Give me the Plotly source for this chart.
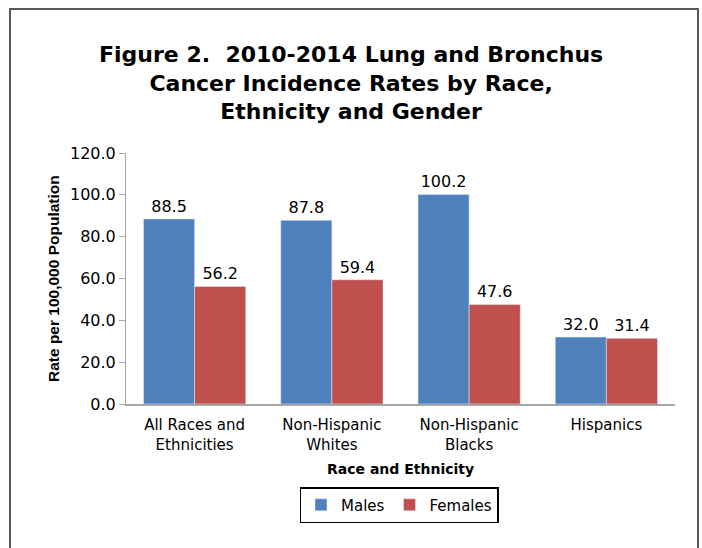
import plotly.graph_objects as go

categories = ["All Races and<br>Ethnicities", "Non-Hispanic<br>Whites", "Non-Hispanic<br>Blacks", "Hispanics"]
males = [88.5, 87.8, 100.2, 32.0]
females = [56.2, 59.4, 47.6, 31.4]
y_ticks = [0, 20, 40, 60, 80, 100, 120]

FONT = "DejaVu Sans, Verdana, sans-serif"
FONT_Y = "Liberation Sans, Arial, sans-serif"

fig = go.Figure()
fig.add_trace(go.Bar(name="Males", x=categories, y=males, marker_color="#4F81BD",
                     text=[f"{v:.1f}" for v in males], textposition="outside",
                     textfont=dict(size=16, color="#000000", family=FONT), cliponaxis=False))
fig.add_trace(go.Bar(name="Females", x=categories, y=females, marker_color="#C0504D",
                     text=[f"{v:.1f}" for v in females], textposition="outside",
                     textfont=dict(size=16, color="#000000", family=FONT), cliponaxis=False))

L, R, T, B = 126, 27, 153, 144
W, H = 702, 548
pw = W - L - R
ph = H - T - B

def px(x):
    return (x - L) / pw

def py(y):
    return (H - B - y) / ph

fig.update_layout(
    width=W, height=H,
    margin=dict(l=L, r=R, t=T, b=B, pad=0),
    paper_bgcolor="white", plot_bgcolor="white",
    barmode="group", bargap=0.255, bargroupgap=0,
    font=dict(family=FONT, color="#000000", size=15),
    showlegend=True,
    legend=dict(orientation="h", x=px(399), xanchor="center", y=py(505), yanchor="middle",
                bordercolor="#000000", borderwidth=1.5, font=dict(size=15, family=FONT),
                itemwidth=30, traceorder="normal", tracegroupgap=0),
    xaxis=dict(showline=True, linecolor="#A6A6A6", linewidth=2, ticks="",
               tickfont=dict(size=15, family=FONT), showgrid=False, ticklabelstandoff=6),
    yaxis=dict(range=[0, 120], tickvals=y_ticks, tickformat=".1f", showline=True,
               linecolor="#A6A6A6", linewidth=1, ticks="outside", ticklen=6,
               tickcolor="#A6A6A6", tickfont=dict(size=16, family=FONT), showgrid=False,
               zeroline=False),
    annotations=[
        dict(text="<b>Figure 2.  2010-2014 Lung and Bronchus<br>Cancer Incidence Rates by Race,<br>Ethnicity and Gender</b>",
             xref="paper", yref="paper", x=px(351), y=py(83), xanchor="center", yanchor="middle",
             showarrow=False, font=dict(size=22, family=FONT)),
        dict(text="<b>Rate per 100,000 Population</b>", textangle=-90,
             xref="paper", yref="paper", x=px(53), y=py(279), xanchor="center", yanchor="middle",
             showarrow=False, font=dict(size=15.5, family=FONT_Y)),
        dict(text="<b>Race and Ethnicity</b>",
             xref="paper", yref="paper", x=px(400), y=py(469), xanchor="center", yanchor="middle",
             showarrow=False, font=dict(size=14, family=FONT)),
    ],
    shapes=[dict(type="rect", xref="paper", yref="paper", x0=px(10), x1=px(698),
                 y0=py(9), y1=py(570), line=dict(color="#595959", width=2), layer="above")],
)

fig.write_html("out.html", config={"displayModeBar": False},
               post_script="document.body.style.margin='0px';")
